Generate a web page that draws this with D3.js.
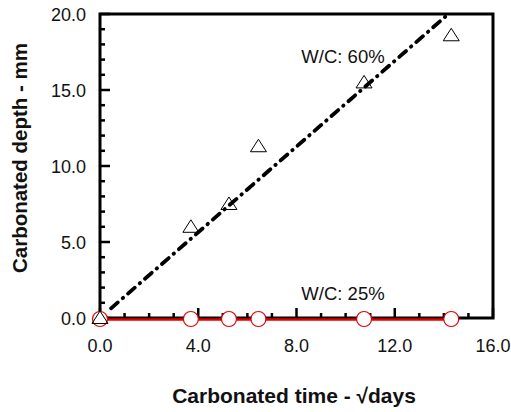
<!DOCTYPE html>
<html><head><meta charset="utf-8">
<script src="https://cdn.jsdelivr.net/npm/d3@7/dist/d3.min.js"></script>
<style>body{margin:0;background:#fff}text{font-family:"Liberation Sans",Arial,sans-serif;fill:#111}</style>
</head><body><svg id="c" width="511" height="412"></svg>
<script>
const timeW60 = [0, 3.7, 5.25, 6.45, 10.75, 14.3];
const depthW60 = [0, 6.0, 7.5, 11.3, 15.5, 18.6];
const timeW25 = [0, 3.7, 5.25, 6.45, 10.75, 14.3];
const depthW25 = [0, 0, 0, 0, 0, 0];
const fitX = [0.45, 14.2];
const fitSlope = 1.41;
const xTicks = [0, 4, 8, 12, 16];
const yTicks = [0, 5, 10, 15, 20];
const labels = ["W/C: 60%", "W/C: 25%"];

const svg = d3.select("#c");
const x = d3.scaleLinear().domain([0,16]).range([100,493]);
const y = d3.scaleLinear().domain([0,20]).range([318,14]);

// fit line
svg.append("line")
  .attr("x1", x(fitX[0])).attr("y1", y(fitSlope*fitX[0]))
  .attr("x2", x(fitX[1])).attr("y2", y(fitSlope*fitX[1]))
  .attr("stroke","#000").attr("stroke-width",3.8).attr("stroke-linecap","round")
  .attr("stroke-dasharray","9 6.5 0.5 6.5");

// frame
svg.append("path")
  .attr("d", `M${x(0)},${y(20)}H${x(16)}V${y(0)}H${x(0)}Z`)
  .attr("fill","none").attr("stroke","#000").attr("stroke-width",3);

// minor/major ticks
const minorX = d3.range(0,16.01,1), minorY = d3.range(0,20.01,1);
svg.selectAll(".tx").data(minorX).join("line")
  .attr("x1", d=>x(d)).attr("x2", d=>x(d))
  .attr("y1", y(0)).attr("y2", d=> y(0) - (d%4===0?10:5))
  .attr("stroke","#000").attr("stroke-width",2.5);
svg.selectAll(".ty").data(minorY).join("line")
  .attr("y1", d=>y(d)).attr("y2", d=>y(d))
  .attr("x1", x(0)).attr("x2", d=> x(0) + (d%5===0?10:5))
  .attr("stroke","#000").attr("stroke-width",2.5);

// tick labels
svg.selectAll(".lx").data(xTicks).join("text")
  .attr("x", d=>x(d)).attr("y", y(0)+34)
  .attr("text-anchor","middle").attr("font-size",18).text(d=>d.toFixed(1));
svg.selectAll(".ly").data(yTicks).join("text")
  .attr("x", x(0)-14).attr("y", d=>y(d)+7)
  .attr("text-anchor","end").attr("font-size",18).text(d=>d.toFixed(1));

// red line W/C 25%
svg.append("line")
  .attr("x1", x(d3.min(timeW25))).attr("x2", x(d3.max(timeW25)))
  .attr("y1", y(0)+1.5).attr("y2", y(0)+1.5)
  .attr("stroke","#e00000").attr("stroke-width",2.5);

// circles
svg.selectAll(".c").data(timeW25).join("circle")
  .attr("cx", d=>x(d)).attr("cy", (d,i)=>y(depthW25[i])+1)
  .attr("r",7.5).attr("fill","#fff").attr("stroke","#e00000").attr("stroke-width",1.2);

// triangles
const tri = "M-8,5.5L8,5.5L0,-7Z";
svg.selectAll(".t").data(timeW60).join("path")
  .attr("d", tri)
  .attr("transform", (d,i)=>`translate(${x(d)},${y(depthW60[i])})`)
  .attr("fill","none").attr("stroke","#000").attr("stroke-width",1);

// annotations
svg.append("text").attr("x", 343).attr("y", 63).attr("text-anchor","middle")
  .attr("font-size",18.5).text(labels[0]);
svg.append("text").attr("x", 343).attr("y", 300).attr("text-anchor","middle")
  .attr("font-size",18.5).text(labels[1]);

// axis titles
svg.append("text").attr("x", 294).attr("y", 403).attr("text-anchor","middle")
  .attr("font-size",21).attr("font-weight","bold").text("Carbonated time - \u221Adays");
svg.append("text").attr("transform","translate(27,158) rotate(-90)")
  .attr("text-anchor","middle").attr("font-size",20.5).attr("font-weight","bold")
  .text("Carbonated depth - mm");
</script></body></html>
